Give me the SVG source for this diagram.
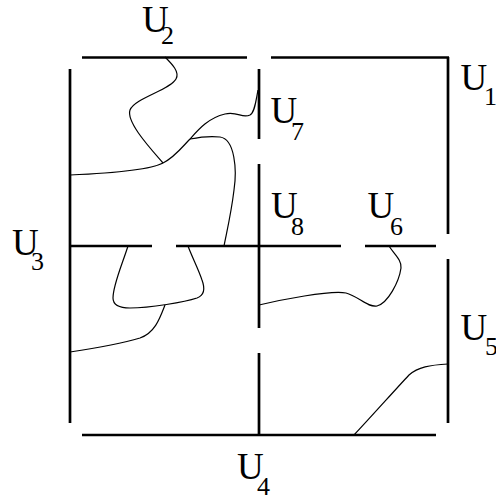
<svg xmlns="http://www.w3.org/2000/svg" width="496" height="500" viewBox="0 0 496 500">
<style>
.b{stroke:#000;stroke-width:2.7;fill:none}
.c{stroke:#000;stroke-width:1.2;fill:none}
.m{font-family:"Liberation Serif","Times New Roman",serif;font-size:37px;fill:#000}
.s{font-family:"Liberation Serif","Times New Roman",serif;font-size:26px;fill:#000}
</style>
<rect width="496" height="500" fill="#fff"/>
<g id="boundaries">
<line class="b" x1="82" y1="57.5" x2="247" y2="57.5"/>
<line class="b" x1="271" y1="57.5" x2="449" y2="57.5"/>
<line class="b" x1="448" y1="57" x2="448" y2="234"/>
<line class="b" x1="448" y1="259" x2="448" y2="423"/>
<line class="b" x1="82" y1="435" x2="436" y2="435"/>
<line class="b" x1="70" y1="69" x2="70" y2="423"/>
<line class="b" x1="70" y1="246" x2="152" y2="246"/>
<line class="b" x1="176" y1="246" x2="341" y2="246"/>
<line class="b" x1="365" y1="246" x2="436" y2="246"/>
<line class="b" x1="259" y1="69" x2="259" y2="139"/>
<line class="b" x1="259" y1="164" x2="259" y2="328"/>
<line class="b" x1="259" y1="353" x2="259" y2="435"/>
</g>
<g id="curves">
<path class="c" d="M165,57 C172,64 180,72 176,79 C170,90 135,98 130,110 C126,122 150,148 163,163"/>
<path class="c" d="M70,175 C115,173 150,170 163,163 C175,157 183,146 190,139 C198,130 208,118 225,114 C238,111 242,119 250,115 C255,112 256,100 258,90"/>
<path class="c" d="M190,139 C200,137 212,136 220,137 C235,139 237,170 234,190 C231,215 226,235 224,246"/>
<path class="c" d="M128,246 C122,265 113,285 113,298 C113,306 120,308 130,308 C150,308 185,302 197,298 C205,295 205,288 202,280 C198,268 192,257 188,246"/>
<path class="c" d="M165,305 C160,318 155,333 140,338 C120,344 90,349 70,352"/>
<path class="c" d="M389,246 C394,254 402,260 401,268 C399,282 388,303 377,306 C368,308 358,296 346,293 C330,290 280,300 259,305"/>
<path class="c" d="M354,435 C370,418 395,390 409,375 C418,367 430,365 448,364"/>
</g>
<g id="labels">
<g id="U2"><text class="m" x="142" y="32">U</text><text class="s" x="161" y="44">2</text></g>
<g id="U1"><text class="m" x="460.5" y="90">U</text><text class="s" x="484" y="105">1</text></g>
<g id="U3"><text class="m" x="12" y="255">U</text><text class="s" x="31" y="270">3</text></g>
<g id="U4"><text class="m" x="237" y="479">U</text><text class="s" x="257" y="495">4</text></g>
<g id="U5"><text class="m" x="460.5" y="340">U</text><text class="s" x="485" y="355">5</text></g>
<g id="U7"><text class="m" x="270.5" y="123">U</text><text class="s" x="291" y="140">7</text></g>
<g id="U8"><text class="m" x="271" y="218">U</text><text class="s" x="291" y="235">8</text></g>
<g id="U6"><text class="m" x="367.5" y="218">U</text><text class="s" x="390" y="235">6</text></g>
</g>
</svg>
